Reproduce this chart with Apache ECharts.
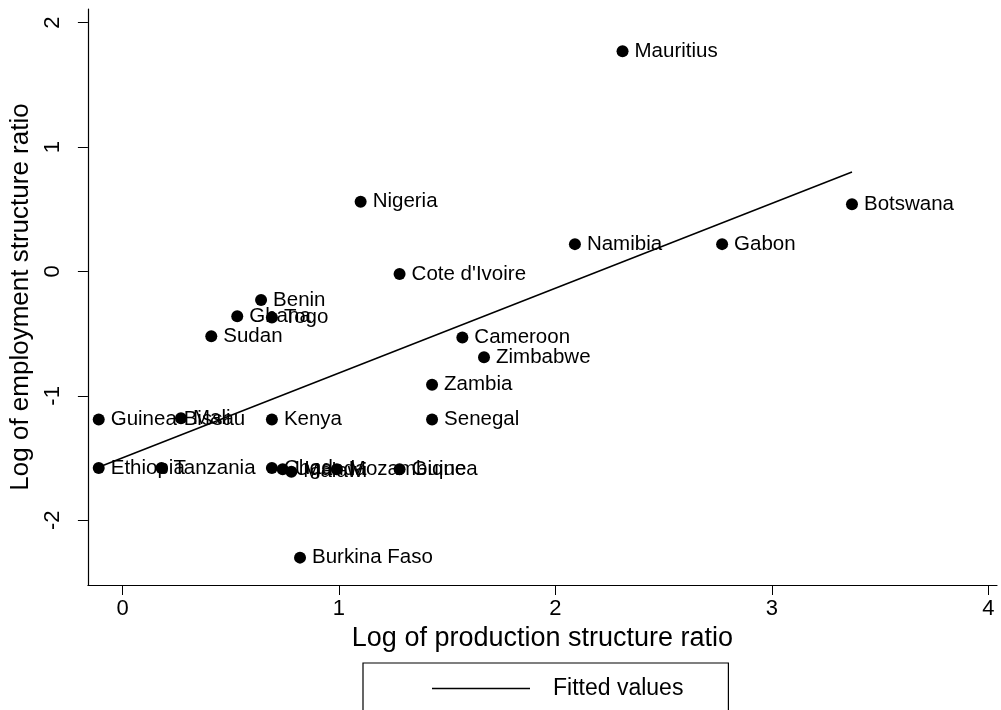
<!DOCTYPE html>
<html>
<head>
<meta charset="utf-8">
<script src="https://cdn.jsdelivr.net/npm/echarts@6/dist/echarts.min.js"></script>
<style>
  html, body { margin: 0; padding: 0; background: #fff; }
  #chart { width: 1001px; height: 710px; }
</style>
</head>
<body>
<div id="chart"></div>
<script>
// Countries and their log structure ratios
const countries = [
  'Mauritius', 'Nigeria', 'Botswana', 'Namibia', 'Gabon', "Cote d'Ivoire",
  'Benin', 'Ghana', 'Togo', 'Sudan', 'Cameroon', 'Zimbabwe', 'Zambia',
  'Senegal', 'Kenya', 'Guinea-Bissau', 'Mali', 'Ethiopia', 'Tanzania',
  'Chad', 'Uganda', 'Malawi', 'Mozambique', 'Guinea', 'Burkina Faso'
];
const productionRatio = [
  2.31, 1.10, 3.37, 2.09, 2.77, 1.28,
  0.64, 0.53, 0.69, 0.41, 1.57, 1.67, 1.43,
  1.43, 0.69, -0.11, 0.27, -0.11, 0.18,
  0.69, 0.74, 0.78, 0.99, 1.28, 0.82
];
const employmentRatio = [
  1.77, 0.56, 0.54, 0.22, 0.22, -0.02,
  -0.23, -0.36, -0.37, -0.52, -0.53, -0.69, -0.91,
  -1.19, -1.19, -1.19, -1.18, -1.58, -1.58,
  -1.58, -1.59, -1.61, -1.59, -1.59, -2.30
];

// Fitted regression line end points
const fitX = [-0.12, 3.37];
const fitY = [-1.58, 0.80];

const xTicks = [0, 1, 2, 3, 4];
const yTicks = [-2, -1, 0, 1, 2];

const FONT = '"Liberation Sans", Arial, sans-serif';

const points = countries.map((c, i) => ({ name: c, value: [productionRatio[i], employmentRatio[i]] }));
const fitLine = fitX.map((x, i) => [x, fitY[i]]);

const chart = echarts.init(document.getElementById('chart'));
chart.setOption({
  backgroundColor: '#fff',
  animation: false,
  grid: { left: 87, right: 4, top: 9, bottom: 125 },
  legend: {
    left: 363, top: 663,
    padding: [14, 45, 40, 69],
    borderColor: '#000', borderWidth: 1.2,
    itemWidth: 98, itemHeight: 1.5,
    data: [{ name: 'Fitted values', icon: 'rect' }],
    textStyle: { fontFamily: FONT, fontSize: 23, color: '#000', padding: [0, 0, 0, 18] }
  },
  xAxis: {
    type: 'value', min: -0.16, max: 4.04,
    name: 'Log of production structure ratio',
    nameLocation: 'middle', nameGap: 40,
    nameTextStyle: { fontFamily: FONT, fontSize: 27, color: '#000' },
    axisLine: { show: true, onZero: false, lineStyle: { color: '#000', width: 1.2 } },
    axisTick: { show: true, length: 10, customValues: xTicks, lineStyle: { color: '#000' } },
    axisLabel: { customValues: xTicks, margin: 13, fontFamily: FONT, fontSize: 22, color: '#000' },
    splitLine: { show: false }
  },
  yAxis: {
    type: 'value', min: -2.52, max: 2.11,
    name: 'Log of employment structure ratio',
    nameLocation: 'middle', nameGap: 52,
    nameTextStyle: { fontFamily: FONT, fontSize: 26, color: '#000' },
    axisLine: { show: true, onZero: false, lineStyle: { color: '#000', width: 1.2 } },
    axisTick: { show: true, length: 10, customValues: yTicks, lineStyle: { color: '#000' } },
    axisLabel: { customValues: yTicks, rotate: 90, margin: 24, fontFamily: FONT, fontSize: 22, color: '#000' },
    splitLine: { show: false }
  },
  series: [
    {
      name: 'Countries',
      type: 'scatter',
      data: points,
      symbolSize: 12,
      itemStyle: { color: '#000', opacity: 1 },
      label: {
        show: true, position: 'right', distance: 6,
        formatter: '{b}',
        fontFamily: FONT, fontSize: 20.5, color: '#000'
      },
      z: 3
    },
    {
      name: 'Fitted values',
      type: 'line',
      data: fitLine,
      symbol: 'none',
      lineStyle: { color: '#000', width: 1.5 },
      itemStyle: { color: '#000' },
      z: 4
    }
  ]
});
</script>
</body>
</html>
